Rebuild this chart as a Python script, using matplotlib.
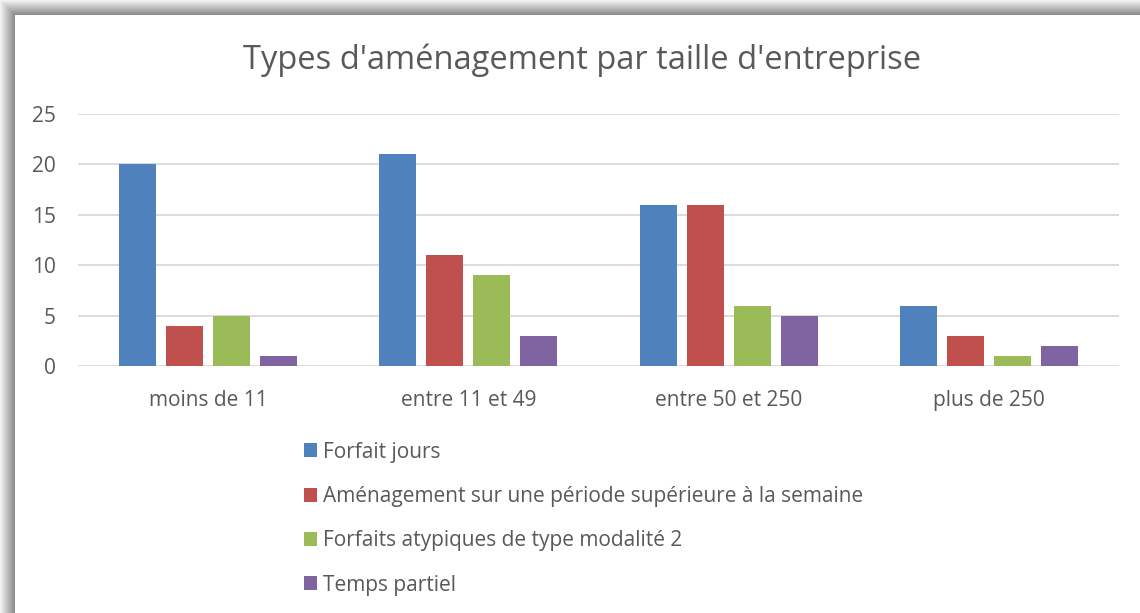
import matplotlib
matplotlib.use("Agg")
import matplotlib.pyplot as plt
import numpy as np
from matplotlib.patches import Rectangle

categories = ["moins de 11", "entre 11 et 49", "entre 50 et 250", "plus de 250"]
series_names = ["Forfait jours",
                "Aménagement sur une période supérieure à la semaine",
                "Forfaits atypiques de type modalité 2",
                "Temps partiel"]
forfait_jours = [20, 21, 16, 6]
amenagement = [4, 11, 16, 3]
forfaits_atypiques = [5, 9, 6, 1]
temps_partiel = [1, 3, 5, 2]
colors = ["#4F81BD", "#C0504D", "#9BBB59", "#8064A2"]
yticks = [0, 5, 10, 15, 20, 25]

plt.rcParams['font.family'] = ['Open Sans', 'DejaVu Sans']
txt = "#595959"

W, H = 1140, 613
fig = plt.figure(figsize=(W/100, H/100), dpi=100)

# shadow border (top and left)
bg = fig.add_axes([0, 0, 1, 1], zorder=-10)
bg.set_axis_off()
bg.set_xlim(0, W); bg.set_ylim(H, 0)
for i in range(15):
    g = 0.95 - 0.4 * (i / 14)
    bg.add_patch(Rectangle((i, i), W - i, 1, color=(g, g, g), lw=0))
    bg.add_patch(Rectangle((i, i), 1, H - i, color=(g, g, g), lw=0))
bg.add_patch(Rectangle((15, 15), W - 15, H - 15, color="white", lw=0))

ax = fig.add_axes([78/W, 1 - 366/H, (1119-78)/W, (366-114)/H])
data = [forfait_jours, amenagement, forfaits_atypiques, temps_partiel]
x = np.arange(len(categories))
bw = 37/260
step = 47/260
for i, (vals, c, name) in enumerate(zip(data, colors, series_names)):
    ax.bar(x + (i - 1.5) * step, vals, width=bw, color=c, label=name, zorder=3)

ax.set_xlim(-0.5, 3.5)
ax.set_ylim(0, 25)
ax.set_yticks(yticks)
ax.set_xticks(x)
ax.set_xticklabels(categories)
ax.tick_params(axis='both', length=0, labelsize=15, colors=txt)
ax.tick_params(axis='y', pad=16)
ax.tick_params(axis='x', pad=17)
ax.grid(axis='y', color="#D9D9D9", lw=1.3, zorder=0)
for s in ax.spines.values():
    s.set_visible(False)

fig.text(582/W, 1 - 60/H, "Types d'aménagement par taille d'entreprise",
         ha='center', va='center', fontsize=23.5, color=txt)

handles, labels = ax.get_legend_handles_labels()
leg = fig.legend(handles, labels, loc='upper left', bbox_to_anchor=(285/W, 1 - 423/H),
                 frameon=False, fontsize=15, labelcolor=txt, handlelength=0.65,
                 handleheight=0.65, handletextpad=0.28, labelspacing=1.12)

fig.savefig("out.png", dpi=100)
